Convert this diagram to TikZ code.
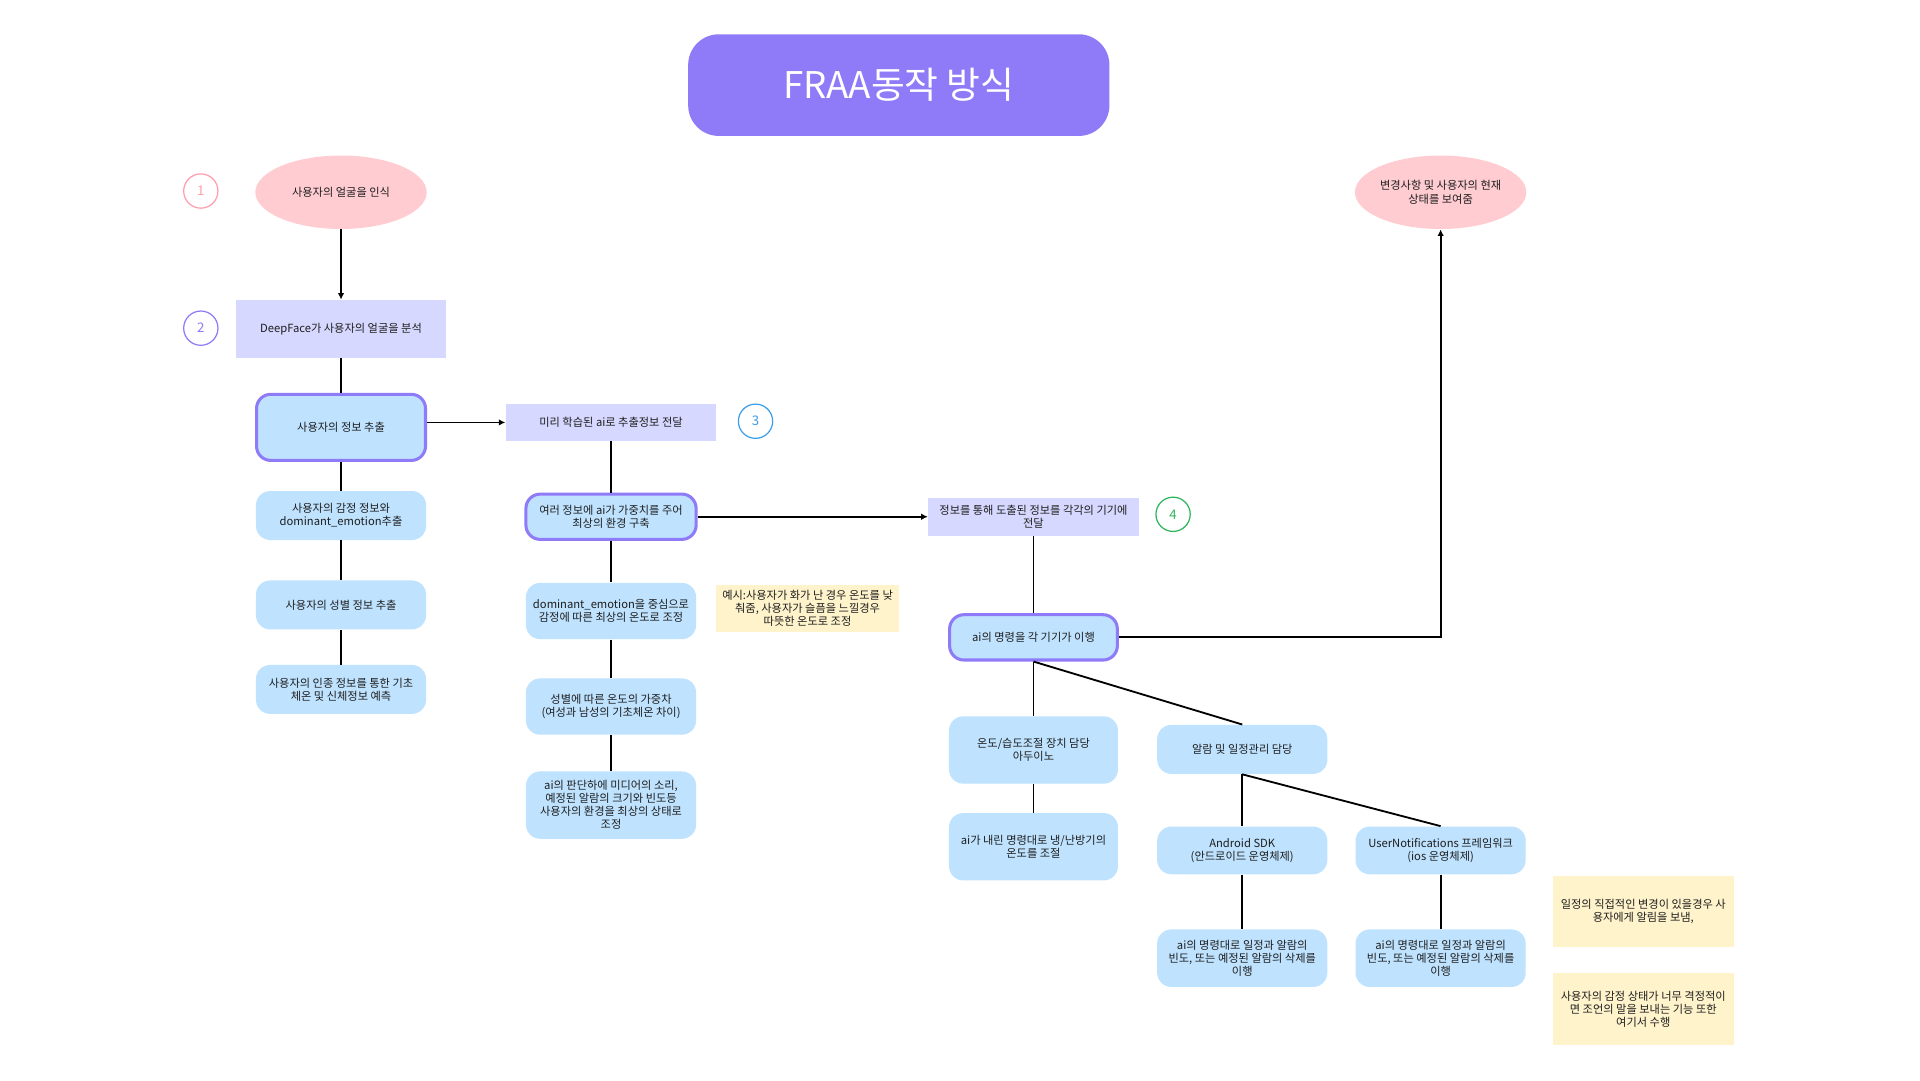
\documentclass[tikz,border=0pt]{standalone}
\usepackage{fontspec}
\setmainfont{Noto Sans CJK KR}
\usetikzlibrary{shapes.geometric,arrows.meta}
\definecolor{purp}{HTML}{8F7AF8}
\definecolor{pinkfill}{HTML}{FFCCD2}
\definecolor{lav}{HTML}{D7D8FF}
\definecolor{lblue}{HTML}{BFE3FF}
\definecolor{ynote}{HTML}{FFF3CC}
\definecolor{txt}{HTML}{1E1E1E}
\definecolor{stepone}{HTML}{FF9DAA}
\definecolor{stepthree}{HTML}{3B9EEB}
\definecolor{stepfour}{HTML}{2DB55D}
\tikzset{
  base/.style={font=\fontsize{5.5}{6.4}\selectfont, align=center, inner sep=0pt, text=txt},
  bluebox/.style={base, fill=lblue, rounded corners=7pt},
  pbox/.style={bluebox, draw=purp, line width=1.5pt},
  lavbox/.style={base, fill=lav},
  notebox/.style={base, fill=ynote},
  oval/.style={base, ellipse, fill=pinkfill, minimum width=84pt, minimum height=36pt},
  stepc/.style={circle, draw=#1, text=#1, line width=0.6pt, minimum size=16.8pt, inner sep=0pt, font=\fontsize{6.5}{7}\selectfont},
  conn/.style={draw=black, line width=0.9pt},
  arr/.style={conn, -{Latex[length=3.2pt,width=3.2pt]}}
}
\begin{document}
\begin{tikzpicture}[x=0.6pt,y=-0.6pt]
\fill[white] (0,0) rectangle (1568,882);
\useasboundingbox (0,0) rectangle (1568,882);

% title
\node[fill=purp, rounded corners=15pt, minimum width=206.4pt, minimum height=49.8pt, text=white, font=\fontsize{18}{20}\selectfont, inner sep=0pt] (title) at (734,69.5) {FRAA동작 방식};

% step circles
\node[stepc=stepone] (s1) at (164,156) {1};
\node[stepc=purp] (s2) at (164,268) {2};
\node[stepc=stepthree] (s3) at (617,344) {3};
\node[stepc=stepfour] (s4) at (958,420) {4};

% left column
\node[oval] (face) at (278.5,157) {사용자의 얼굴을 인식};
\node[lavbox, minimum width=103.2pt, minimum height=28.2pt] (deep) at (278.5,268.5) {DeepFace가 사용자의 얼굴을 분석};
\node[pbox, minimum width=82.8pt, minimum height=32.4pt] (info) at (278.5,349) {사용자의 정보 추출};
\node[bluebox, minimum width=83.4pt, minimum height=24pt] (emo) at (278.5,421) {사용자의 감정 정보와\\dominant\_emotion추출};
\node[bluebox, minimum width=83.4pt, minimum height=24pt] (gender) at (278.5,494) {사용자의 성별 정보 추출};
\node[bluebox, minimum width=83.4pt, minimum height=24pt] (race) at (278.5,563) {사용자의 인종 정보를 통한 기초\\체온 및 신체정보 예측};

% middle column
\node[lavbox, minimum width=103.2pt, minimum height=18pt] (pre) at (499,345) {미리 학습된 ai로 추출정보 전달};
\node[pbox, minimum width=83.4pt, minimum height=22.2pt] (weight) at (499,422) {여러 정보에 ai가 가중치를 주어\\최상의 환경 구축};
\node[bluebox, minimum width=83.4pt, minimum height=27.6pt] (dom) at (499,499) {dominant\_emotion을 중심으로\\감정에 따른 최상의 온도로 조정};
\node[bluebox, minimum width=83.4pt, minimum height=27.6pt] (gw) at (499,577) {성별에 따른 온도의 가중차\\(여성과 남성의 기초체온 차이)};
\node[bluebox, minimum width=83.4pt, minimum height=33pt] (media) at (499,657.5) {ai의 판단하에 미디어의 소리,\\예정된 알람의 크기와 빈도등\\사용자의 환경을 최상의 상태로\\조정};
\node[notebox, minimum width=89.4pt, minimum height=22.8pt] (ex) at (659.5,497) {예시:사용자가 화가 난 경우 온도를 낮\\춰줌, 사용자가 슬픔을 느낄경우\\따뜻한 온도로 조정};

% right part
\node[lavbox, minimum width=103.2pt, minimum height=18.6pt] (deliver) at (844,422) {정보를 통해 도출된 정보를 각각의 기기에\\전달};
\node[pbox, minimum width=82.2pt, minimum height=22.2pt] (cmd) at (844,520.5) {ai의 명령을 각 기기가 이행};
\node[oval] (show) at (1176.5,157) {변경사항 및 사용자의 현재\\상태를 보여줌};
\node[bluebox, minimum width=82.8pt, minimum height=33pt] (temp) at (844,612.5) {온도/습도조절 장치 담당\\아두이노};
\node[bluebox, minimum width=83.4pt, minimum height=24pt] (alarm) at (1014.5,612) {알람 및 일정관리 담당};
\node[bluebox, minimum width=82.8pt, minimum height=33pt] (hvac) at (844,691.5) {ai가 내린 명령대로 냉/난방기의\\온도를 조절};
\node[bluebox, minimum width=83.4pt, minimum height=23.4pt] (android) at (1014.5,694.5) {Android SDK\\(안드로이드 운영체제)};
\node[bluebox, minimum width=83.4pt, minimum height=23.4pt] (ios) at (1176.5,694.5) {UserNotifications 프레임워크\\(ios 운영체제)};
\node[bluebox, minimum width=83.4pt, minimum height=28.2pt] (andexec) at (1014.5,782.5) {ai의 명령대로 일정과 알람의\\빈도, 또는 예정된 알람의 삭제를\\이행};
\node[bluebox, minimum width=83.4pt, minimum height=28.2pt] (iosexec) at (1176.5,782.5) {ai의 명령대로 일정과 알람의\\빈도, 또는 예정된 알람의 삭제를\\이행};
\node[notebox, minimum width=88.8pt, minimum height=34.8pt] (n1) at (1342,744) {일정의 직접적인 변경이 있을경우 사\\용자에게 알림을 보냄,};
\node[notebox, minimum width=88.8pt, minimum height=34.8pt] (n2) at (1342,824) {사용자의 감정 상태가 너무 격정적이\\면 조언의 말을 보내는 기능 또한\\여기서 수행};

% connectors
\draw[arr] (face.south) -- (deep.north);
\draw[conn] (deep.south) -- (info.north);
\draw[conn] (info.south) -- (emo.north);
\draw[conn] (emo.south) -- (gender.north);
\draw[conn] (gender.south) -- (race.north);
\draw[arr] (pre.west -| info.east) -- (pre.west);
\draw[conn] (pre.south) -- (weight.north);
\draw[conn] (weight.south) -- (dom.north);
\draw[conn] (dom.south) -- (gw.north);
\draw[conn] (gw.south) -- (media.north);
\draw[arr] (weight.east) -- (deliver.west);
\draw[conn] (deliver.south) -- (cmd.north);
\draw[arr] (cmd.east) -| (show.south);
\draw[conn] (cmd.south) -- (temp.north);
\draw[conn] (cmd.south) -- (alarm.north);
\draw[conn] (temp.south) -- (hvac.north);
\draw[conn] (alarm.south) -- (android.north);
\draw[conn] (alarm.south) -- (ios.north);
\draw[conn] (android.south) -- (andexec.north);
\draw[conn] (ios.south) -- (iosexec.north);
\end{tikzpicture}
\end{document}
